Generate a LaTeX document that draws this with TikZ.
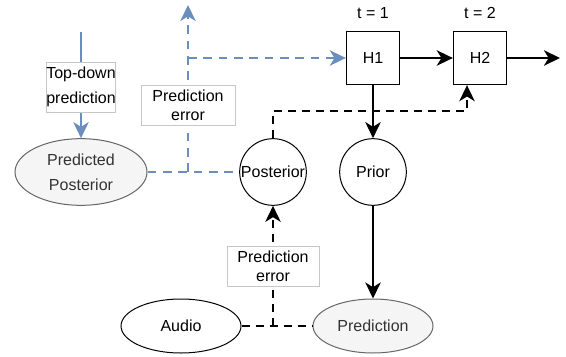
\documentclass[tikz,border=0pt]{standalone}
\usepackage{fontspec}
\setmainfont{Liberation Sans}
\usetikzlibrary{arrows.meta, shapes.geometric}

\definecolor{errblue}{HTML}{6C8EBF}
\definecolor{softgrey}{HTML}{F5F5F5}
\definecolor{edgegrey}{HTML}{666666}
\definecolor{txtgrey}{HTML}{333333}

\begin{document}
\begin{tikzpicture}[x=0.75pt, y=-0.75pt,
    every node/.style={font=\fontsize{12pt}{14.2pt}\selectfont},
    unit/.style={circle, draw, line width=0.75pt, minimum size=50pt, inner sep=0pt},
    hbox/.style={rectangle, draw, line width=0.75pt, minimum size=40pt},
    greyell/.style={ellipse, draw=edgegrey, fill=softgrey, text=txtgrey, line width=0.75pt, inner sep=0pt},
    whiteell/.style={ellipse, draw, line width=0.75pt, inner sep=0pt},
    tag/.style={rectangle, solid, draw=black!22, fill=white, text=black, line width=0.6pt, align=center, inner sep=0pt},
    tip/.style={-{Stealth[length=12pt, width=11.5pt, inset=3.5pt]}},
    flow/.style={line width=1.9pt, tip},
    pe/.style={line width=1.9pt, dash pattern=on 6pt off 4.5pt},
    err/.style={errblue, line width=1.9pt, dash pattern=on 6.5pt off 5pt}]
    \useasboundingbox (0,0) rectangle (566,356);

    % --- hidden states over time ---
    \node[hbox] (h1) at (373,58) {H1};
    \node[hbox] (h2) at (480,58) {H2};
    \node (t1) at (373,13) {t = 1};
    \node (t2) at (480,13) {t = 2};
    \coordinate (out) at (560,58);

    % --- prior / posterior and observations ---
    \node[unit] (post) at (273,172) {Posterior};
    \node[unit] (prior) at (373,172) {Prior};
    \node[greyell, minimum width=99pt, minimum height=50pt, align=center] (pp) at (81,172)
        {Predicted\\[4.5pt]Posterior};
    \node[greyell, minimum width=90pt, minimum height=40.5pt] (pred) at (373,326) {Prediction};
    \node[whiteell, minimum width=90pt, minimum height=40.5pt] (audio) at (181,326) {Audio};

    % --- solid connectors ---
    \draw[flow] (h1) -- (h2);
    \draw[flow] (h2) -- (out);
    \draw[flow] (h1) -- (prior);
    \draw[flow] (prior) -- (pred);

    % --- top-down prediction (blue) ---
    \coordinate (top) at (81,32);
    \draw[errblue, line width=1.9pt, tip] (top) -- node[tag, pos=0.52, minimum width=52pt, minimum height=37.5pt]
        {Top-down\\[4.5pt]prediction} (pp);

    % --- prediction error sent upwards (blue, dashed) ---
    \coordinate (j1) at (188,172);
    \coordinate (j2) at (188,58);
    \coordinate (up) at (188,5);
    \draw[err] (pp) -- (post);
    \draw[err, tip] (j1) -- node[tag, pos=0.4, minimum width=70.5pt, minimum height=30pt]
        {Prediction\\error} (up);
    \draw[err, tip] (j2) -- (h1);

    % --- posterior feeds the next step ---
    \coordinate (k) at (467,111);
    \draw[pe, tip] (post.north) |- (k) -- (k |- h2.south);

    % --- prediction error from the audio ---
    \coordinate (j3) at (273,326);
    \draw[pe] (audio) -- (pred);
    \draw[pe, tip] (j3) -- node[tag, minimum width=69pt, minimum height=30pt]
        {Prediction\\error} (post);
\end{tikzpicture}
\end{document}
